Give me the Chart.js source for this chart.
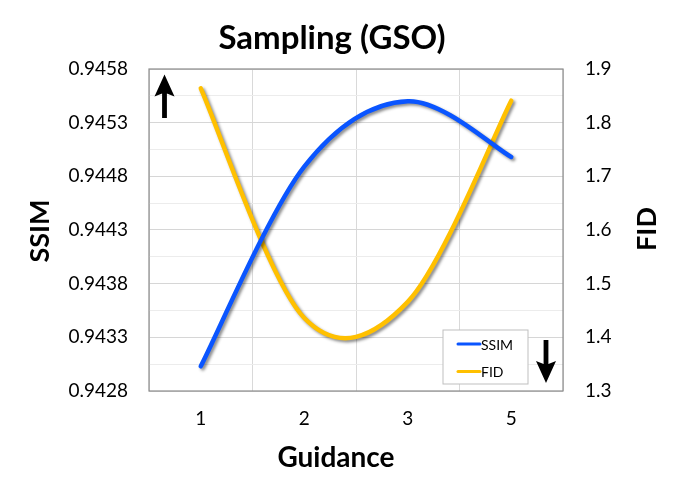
<!DOCTYPE html>
<html>
<head>
<meta charset="utf-8">
<script src="https://cdn.jsdelivr.net/npm/chart.js@4.4.1/dist/chart.umd.min.js"></script>
<style>
  html, body { margin: 0; padding: 0; background: #fff; }
</style>
</head>
<body>
<canvas id="chart" width="681" height="483"></canvas>
<script>
// data
const guidance = ['1', '2', '3', '5'];
const ssimValues = [0.94303, 0.94489, 0.94550, 0.94498];
const fidValues = [1.864, 1.436, 1.466, 1.841];

const ssimRange = [0.9428, 0.9458];
const fidRange = [1.3, 1.9];

const FONT = "Lato, 'Open Sans', sans-serif";
const BLUE = '#0A55FF';
const GOLD = '#FFC000';

// office-style smoothing: uniform catmull-rom control points (1/6 of neighbour span)
const officeSmooth = {
    id: 'officeSmooth',
    beforeDatasetsDraw(chart) {
        chart.data.datasets.forEach((ds, i) => {
            const meta = chart.getDatasetMeta(i);
            meta.dataset.updateControlPoints(chart.chartArea, 'x');
            const pts = meta.data;
            pts.forEach((p, k) => {
                const prev = pts[Math.max(k - 1, 0)];
                const next = pts[Math.min(k + 1, pts.length - 1)];
                const dx = (next.x - prev.x) / 6;
                const dy = (next.y - prev.y) / 6;
                p.cp1x = p.x - dx; p.cp1y = p.y - dy;
                p.cp2x = p.x + dx; p.cp2y = p.y + dy;
            });
        });
    }
};

// plot frame + soft drop shadow under both lines
const lineShadow = {
    id: 'lineShadow',
    beforeDatasetsDraw(chart) {
        const ctx = chart.ctx;
        const a = chart.chartArea;
        ctx.save();
        ctx.strokeStyle = '#8c8c8c';
        ctx.lineWidth = 1.2;
        ctx.strokeRect(a.left, a.top, a.right - a.left, a.bottom - a.top);
        ctx.shadowColor = 'rgba(0,0,0,0.45)';
        ctx.shadowBlur = 3;
        ctx.shadowOffsetX = 2;
        ctx.shadowOffsetY = 2;
    },
    afterDatasetsDraw(chart) {
        chart.ctx.restore();
    }
};

function arrow(ctx, x, tipY, tailY) {
    const dir = tailY > tipY ? 1 : -1;
    const headLen = 22;
    const half = 2.4;
    ctx.beginPath();
    ctx.moveTo(x, tipY);
    ctx.lineTo(x + 10, tipY + dir * headLen);
    ctx.lineTo(x + half, tipY + dir * (headLen - 3));
    ctx.lineTo(x + half, tailY);
    ctx.lineTo(x - half, tailY);
    ctx.lineTo(x - half, tipY + dir * (headLen - 3));
    ctx.lineTo(x - 10, tipY + dir * headLen);
    ctx.closePath();
    ctx.fill();
}

// titles, arrows and the boxed legend inside the plot
const decorations = {
    id: 'decorations',
    afterDraw(chart) {
        const ctx = chart.ctx;
        const a = chart.chartArea;
        ctx.save();
        ctx.fillStyle = '#000';
        ctx.textAlign = 'center';
        ctx.textBaseline = 'middle';

        ctx.font = `bold 33px ${FONT}`;
        ctx.fillText('Sampling (GSO)', 332, 38);

        ctx.font = `bold 28px ${FONT}`;
        ctx.fillText('Guidance', 336, 458);

        ctx.font = `bold 27px ${FONT}`;
        ctx.save();
        ctx.translate(40, 231);
        ctx.rotate(-Math.PI / 2);
        ctx.fillText('SSIM', 0, 0);
        ctx.restore();

        ctx.save();
        ctx.translate(647, 229);
        ctx.rotate(-Math.PI / 2);
        ctx.fillText('FID', 0, 0);
        ctx.restore();

        // direction arrows
        arrow(ctx, a.left + 15.5, a.top + 5.5, a.top + 49);
        arrow(ctx, a.right - 17, a.bottom - 8, a.bottom - 51);

        // legend box
        const bx = a.right - 120, by = a.bottom - 61, bw = 85, bh = 54;
        ctx.fillStyle = '#fff';
        ctx.fillRect(bx, by, bw, bh);
        ctx.strokeStyle = '#bfbfbf';
        ctx.lineWidth = 1;
        ctx.strokeRect(bx, by, bw, bh);
        ctx.font = `14px ${FONT}`;
        ctx.textAlign = 'left';
        chart.data.datasets.forEach((ds, i) => {
            const y = by + 14 + i * 27.5;
            ctx.strokeStyle = ds.borderColor;
            ctx.lineWidth = 3;
            ctx.lineCap = 'round';
            ctx.beginPath();
            ctx.moveTo(bx + 15, y);
            ctx.lineTo(bx + 37, y);
            ctx.stroke();
            ctx.fillStyle = '#000';
            ctx.fillText(ds.label, bx + 38, y + 1);
        });
        ctx.restore();
    }
};

new Chart(document.getElementById('chart'), {
    type: 'line',
    data: {
        labels: guidance,
        datasets: [
            {
                label: 'SSIM',
                data: ssimValues,
                borderColor: BLUE,
                backgroundColor: BLUE,
                borderWidth: 4.5,
                borderCapStyle: 'round',
                pointRadius: 0,
                tension: 0.4,
                yAxisID: 'y'
            },
            {
                label: 'FID',
                data: fidValues,
                borderColor: GOLD,
                backgroundColor: GOLD,
                borderWidth: 4.5,
                borderCapStyle: 'round',
                pointRadius: 0,
                tension: 0.4,
                yAxisID: 'y2'
            }
        ]
    },
    options: {
        responsive: false,
        animation: false,
        layout: { padding: { top: 69, left: 0, right: 0, bottom: 0 } },
        plugins: {
            legend: { display: false },
            tooltip: { enabled: false }
        },
        scales: {
            x: {
                offset: true,
                grid: { offset: true, color: '#d9d9d9', drawTicks: false },
                border: { display: false },
                ticks: { color: '#000', font: { family: FONT, size: 19 }, padding: 16 },
                afterFit(scale) { scale.height = 92; }
            },
            y: {
                position: 'left',
                min: ssimRange[0],
                max: ssimRange[1],
                ticks: {
                    stepSize: 0.00025,
                    color: '#000',
                    font: { family: FONT, size: 19 },
                    padding: 21,
                    callback: (v, i) => (i % 2 === 0 ? v.toFixed(4) : '')
                },
                grid: {
                    drawTicks: false,
                    color: (c) => (c.index % 2 === 0 ? '#d6d6d6' : '#ececec')
                },
                border: { display: false },
                afterFit(scale) { scale.width = 149; }
            },
            y2: {
                position: 'right',
                min: fidRange[0],
                max: fidRange[1],
                ticks: {
                    stepSize: 0.05,
                    color: '#000',
                    font: { family: FONT, size: 19 },
                    padding: 22,
                    callback: (v, i) => (i % 2 === 0 ? v.toFixed(1) : '')
                },
                grid: { display: false, drawTicks: false },
                border: { display: false },
                afterFit(scale) { scale.width = 118; }
            }
        }
    },
    plugins: [officeSmooth, lineShadow, decorations]
});
</script>
</body>
</html>
